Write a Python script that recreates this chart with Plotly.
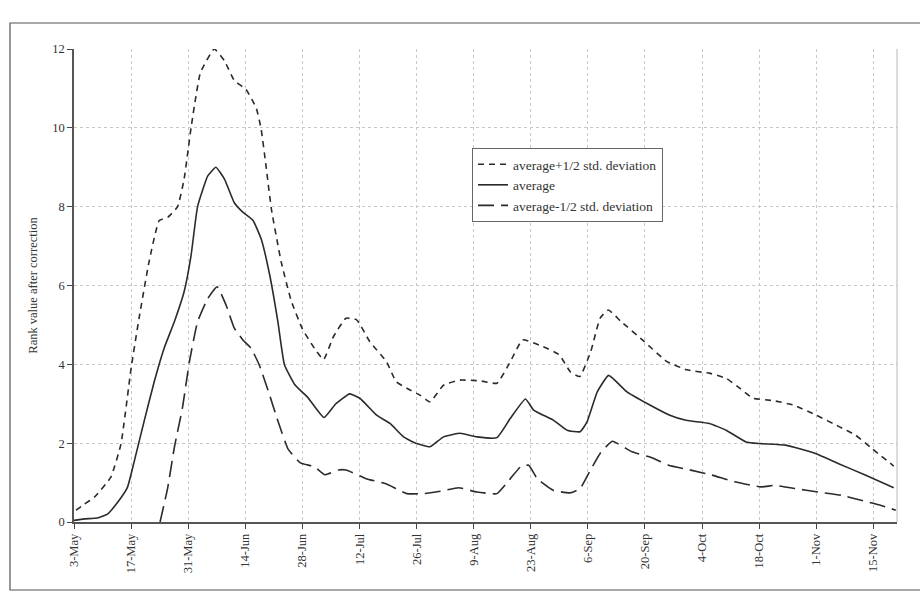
import datetime as dt
import plotly.graph_objects as go

START = dt.date(2003, 5, 3)

# days after 3-May and values
upper_days = [0.5, 2.5, 5, 9, 11.5, 14, 16, 18.4, 20.9, 23, 25.4, 27, 28.7, 31, 34.4, 36.9, 39.3, 42.2,
              44.7, 45.9, 47, 48.4, 50.8, 53.3, 56, 59, 61.2, 63.6, 66.7, 69.3, 72.5, 76.6, 79, 82.4, 84.8,
              87.3, 90.6, 94.7, 99.6, 103.7, 107, 110, 115, 119, 121.7, 124, 126.7, 129, 131, 134, 139.8,
              145.4, 150.3, 156, 160, 163.3, 166.5, 171.4, 176.3, 182, 187.6, 191.7, 195.7, 201]
upper_vals = [0.3, 0.45, 0.63, 1.13, 1.97, 3.9, 5.2, 6.6, 7.65, 7.73, 8.0, 8.7, 10.0, 11.4, 12.0, 11.7, 11.2, 10.97,
              10.5, 9.96, 9.1, 7.94, 6.6, 5.6, 4.9, 4.4, 4.12, 4.7, 5.17, 5.13, 4.58, 4.07, 3.56, 3.35, 3.22,
              3.05, 3.47, 3.6, 3.58, 3.52, 4.07, 4.62, 4.45, 4.24, 3.81, 3.69, 4.32, 5.17, 5.38, 5.1, 4.58,
              4.07, 3.86, 3.77, 3.64, 3.39, 3.14, 3.08, 2.97, 2.71, 2.42, 2.2, 1.86, 1.42]

avg_days = [0, 2.5, 5.7, 8.2, 10.7, 13.1, 14.8, 17.2, 19.7, 22.1, 24.6, 27, 28.7, 30.3, 32.8, 34.8, 36.9, 39.3,
            41.4, 43.9, 45.9, 48, 50, 51.6, 54.1, 57.4, 61.3, 64.2, 67.6, 70.1, 74.2, 77.5, 80.8, 84, 87.3,
            90.6, 94.7, 98.8, 103.7, 107, 110.7, 112.7, 117.6, 120.9, 124.1, 125.8, 128.3, 131.1, 135.5,
            141.2, 146.1, 150.1, 155.8, 159.9, 164.8, 168, 174.5, 181.8, 187.5, 194, 201]
avg_vals = [0.04, 0.08, 0.1, 0.2, 0.5, 0.88, 1.55, 2.56, 3.57, 4.41, 5.08, 5.84, 6.76, 8.0, 8.78, 9.0, 8.7, 8.1,
            7.86, 7.65, 7.18, 6.26, 5.08, 3.99, 3.49, 3.15, 2.65, 3.0, 3.25, 3.14, 2.71, 2.5, 2.16, 1.99, 1.91,
            2.16, 2.25, 2.16, 2.14, 2.63, 3.12, 2.84, 2.58, 2.33, 2.29, 2.54, 3.3, 3.72, 3.31,
            2.97, 2.71, 2.58, 2.5, 2.33, 2.03, 1.99, 1.95, 1.74, 1.48, 1.19, 0.87]

lower_days = [21.1, 23, 24.6, 26.6, 28.3, 30.3, 32.8, 35.1, 37.3, 39.3, 41.4, 43.4, 45.4, 47.9, 50, 52.5, 55.5,
              59, 61.5, 64.8, 66.7, 71.6, 76.5, 81.6, 85.7, 89.8, 94.3, 98.8, 103.7, 107, 109.5, 111.5, 113.6,
              117.6, 121.7, 124.1, 126.6, 129, 132, 136.8, 141.7, 145.8, 151.5, 156.4, 162, 168.5, 171.8,
              176.7, 182.4, 188.1, 193, 197.9, 201.5]
lower_vals = [0, 0.88, 1.89, 2.9, 4.07, 5.08, 5.67, 5.97, 5.5, 4.92, 4.62, 4.41, 3.99, 3.24, 2.56, 1.85, 1.5,
              1.4, 1.2, 1.32, 1.32, 1.1, 0.97, 0.72, 0.72, 0.78, 0.87, 0.76, 0.72, 1.1, 1.4, 1.44, 1.1,
              0.8, 0.74, 0.85, 1.31, 1.74, 2.05, 1.78, 1.63, 1.44, 1.31, 1.19, 1.02, 0.89, 0.93,
              0.85, 0.76, 0.68, 0.55, 0.42, 0.3]

tick_labels = ["3-May", "17-May", "31-May", "14-Jun", "28-Jun", "12-Jul", "26-Jul", "9-Aug",
               "23-Aug", "6-Sep", "20-Sep", "4-Oct", "18-Oct", "1-Nov", "15-Nov"]
tick_days = [14 * i for i in range(len(tick_labels))]
y_ticks = [0, 2, 4, 6, 8, 10, 12]


def to_dates(days):
    return [dt.datetime.combine(START, dt.time()) + dt.timedelta(days=d) for d in days]


LINE = "#2b2b2b"
SERIF = "Liberation Serif, DejaVu Serif, serif"

fig = go.Figure()
fig.add_trace(go.Scatter(x=to_dates(upper_days), y=upper_vals, mode="lines", line_shape="spline",
                         line_smoothing=0.4,
                         name="average+1/2 std. deviation",
                         line=dict(color=LINE, width=1.6, dash="6px,5px")))
fig.add_trace(go.Scatter(x=to_dates(avg_days), y=avg_vals, mode="lines", name="average",
                         line_shape="spline", line_smoothing=0.4,
                         line=dict(color=LINE, width=1.6)))
fig.add_trace(go.Scatter(x=to_dates(lower_days), y=lower_vals, mode="lines",
                         line_shape="spline", line_smoothing=0.4,
                         name="average-1/2 std. deviation",
                         line=dict(color=LINE, width=1.6, dash="16px,7px")))

grid = dict(showgrid=True, gridcolor="#c8c8c8", griddash="dot", gridwidth=1)

PL, PR, PT, PB = 74, 897, 49, 522
PW, PH = PR - PL, PB - PT

fig.update_layout(
    width=920, height=595,
    margin=dict(l=PL, r=920 - PR, t=PT, b=595 - PB),
    paper_bgcolor="white", plot_bgcolor="white",
    font=dict(family=SERIF, size=12, color="#333333"),
    showlegend=True,
    legend=dict(x=(472 - PL) / PW, y=(PB - 148) / PH, xanchor="left", yanchor="top",
                bgcolor="white", bordercolor="#666666", borderwidth=1,
                font=dict(family=SERIF, size=13.5, color="#333333"),
                tracegroupgap=0, itemwidth=30),
    xaxis=dict(
        type="date", automargin=False,
        range=[to_dates([0])[0], to_dates([201.8])[0]],
        tickvals=to_dates(tick_days), ticktext=tick_labels, tickangle=-90,
        ticks="outside", ticklen=5, tickwidth=1.2, tickcolor="#444444",
        showline=True, linecolor="#555555", linewidth=1.5, mirror=False,
        tickfont=dict(family=SERIF, size=12.5, color="#333333"),
        **grid,
    ),
    yaxis=dict(
        range=[0, 12], tickvals=y_ticks, automargin=False,
        ticks="outside", ticklen=5, tickwidth=1.2, tickcolor="#444444",
        ticksuffix="\u00a0\u00a0",
        showline=True, linecolor="#555555", linewidth=1.5,
        tickfont=dict(family=SERIF, size=12.5, color="#333333"),
        title=dict(text="Rank value after correction", standoff=12,
                   font=dict(family=SERIF, size=12.5, color="#333333")),
        **grid,
    ),
    shapes=[
        dict(type="line", xref="paper", yref="paper", x0=1, x1=1, y0=0, y1=1,
             line=dict(color="#b8b8b8", width=1)),
        dict(type="rect", xref="paper", yref="paper",
             x0=(10 - PL) / PW, x1=(935 - PL) / PW,
             y0=(PB - 590) / PH, y1=(PB - 23) / PH,
             line=dict(color="#555555", width=1.2)),
    ],
)

fig.write_html("out.html", config={"displayModeBar": False},
               post_script="document.body.style.margin='0';")
